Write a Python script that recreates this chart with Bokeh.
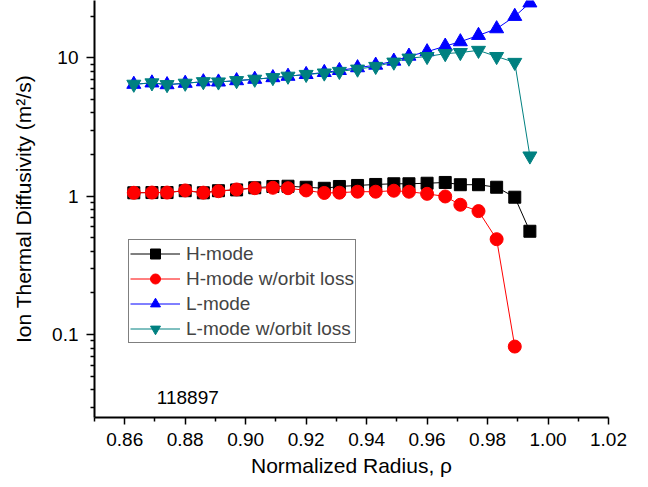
from bokeh.plotting import figure
from bokeh.models import Range1d, FixedTicker, PrintfTickFormatter, CustomJSTickFormatter, Label
from bokeh.embed import file_html
from bokeh.resources import INLINE

# normalized radius grid
rho = [0.863, 0.869, 0.874, 0.880, 0.886, 0.891, 0.897, 0.903, 0.909, 0.914, 0.920, 0.926,
       0.931, 0.937, 0.943, 0.949, 0.954, 0.960, 0.966, 0.971, 0.977, 0.983, 0.989, 0.994]

h_mode = [1.058, 1.062, 1.062, 1.095, 1.058, 1.095, 1.11, 1.15, 1.175, 1.18, 1.16, 1.14,
          1.175, 1.195, 1.215, 1.229, 1.229, 1.24, 1.256, 1.21, 1.21, 1.16, 0.983, 0.558]
h_mode_ol = [1.058, 1.062, 1.062, 1.10, 1.06, 1.086, 1.118, 1.142, 1.15, 1.142, 1.10, 1.055,
             1.06, 1.077, 1.077, 1.095, 1.077, 1.04, 0.995, 0.867, 0.78, 0.489, 0.082]
l_mode = [6.43, 6.58, 6.39, 6.54, 6.71, 6.68, 6.83, 6.99, 7.18, 7.35, 7.57, 7.83,
          8.09, 8.47, 8.84, 9.45, 10.27, 11.05, 12.13, 13.05, 14.5, 16.2, 19.9, 24.9]
l_mode_ol = [6.43, 6.58, 6.39, 6.54, 6.71, 6.68, 6.83, 6.99, 7.18, 7.35, 7.57, 7.75,
             7.96, 8.27, 8.65, 9.29, 9.93, 10.2, 10.7, 10.9, 11.3, 10.2, 9.25, 1.95]

x_ticks = [0.86, 0.88, 0.90, 0.92, 0.94, 0.96, 0.98, 1.00, 1.02]
x_minor = [0.85, 0.87, 0.89, 0.91, 0.93, 0.95, 0.97, 0.99, 1.01]
y_ticks = [0.1, 1, 10]
y_minor = [0.03, 0.04, 0.05, 0.06, 0.07, 0.08, 0.09,
           0.2, 0.3, 0.4, 0.5, 0.6, 0.7, 0.8, 0.9,
           2, 3, 4, 5, 6, 7, 8, 9, 20]

FONT = "Liberation Sans"

p = figure(width=640, height=479, y_axis_type="log",
           x_range=Range1d(0.85, 1.02), y_range=Range1d(0.0252, 25.9),
           output_backend="svg", toolbar_location=None,
           min_border_left=94, min_border_right=32, min_border_top=0, min_border_bottom=62)
p.outline_line_color = None
p.xgrid.grid_line_color = None
p.ygrid.grid_line_color = None

series = [
    (h_mode, "black", "square", 12, "H-mode"),
    (h_mode_ol, "red", "circle", 13, "H-mode w/orbit loss"),
    (l_mode, "blue", "triangle", 14, "L-mode"),
    (l_mode_ol, "#008080", "inverted_triangle", 14, "L-mode w/orbit loss"),
]
for vals, col, mk, sz, name in series:
    xs = rho[:len(vals)]
    p.line(xs, vals, line_color=col, line_width=1, legend_label=name)
    p.scatter(xs, vals, marker=mk, size=sz, fill_color=col, line_color=col, legend_label=name)

p.xaxis.ticker = FixedTicker(ticks=x_ticks, minor_ticks=x_minor)
p.xaxis.formatter = PrintfTickFormatter(format="%.2f")
p.yaxis.ticker = FixedTicker(ticks=y_ticks, minor_ticks=y_minor)
p.yaxis.formatter = CustomJSTickFormatter(code="return tick.toString()")

for ax in (p.xaxis, p.yaxis):
    ax.axis_line_width = 2
    ax.major_tick_line_width = 1.5
    ax.minor_tick_line_width = 1.5
    ax.major_tick_in = 0
    ax.minor_tick_in = 0
    ax.major_label_text_font = FONT
    ax.major_label_text_font_size = "19px"
    ax.major_label_text_color = "black"
    ax.axis_label_text_font = FONT
    ax.axis_label_text_font_size = "21px"
    ax.axis_label_text_font_style = "normal"
    ax.axis_label_text_color = "black"

p.xaxis.major_tick_out = 7
p.xaxis.minor_tick_out = 4
p.xaxis.major_label_standoff = 8
p.xaxis.axis_label_standoff = 5
p.xaxis.axis_label = "Normalized Radius, ρ"

p.yaxis.major_tick_out = 8
p.yaxis.minor_tick_out = 4
p.yaxis.major_label_standoff = 8
p.yaxis.axis_label_standoff = 14
p.yaxis.axis_label = "Ion Thermal Diffusivity (m²/s)"

p.add_layout(Label(x=0.8706, y=0.0318, text="118897", text_font=FONT,
                   text_font_size="19px", text_color="black"))

lg = p.legend[0]
lg.location = (34, 74)
lg.label_text_font = FONT
lg.label_text_font_size = "19px"
lg.glyph_width = 50
lg.glyph_height = 25
lg.label_height = 25
lg.spacing = 0
lg.padding = 1
lg.margin = 0
lg.label_standoff = 6
lg.border_line_color = "black"
lg.border_line_width = 1
lg.background_fill_alpha = 1

open("out.html", "w").write(file_html(p, INLINE))
